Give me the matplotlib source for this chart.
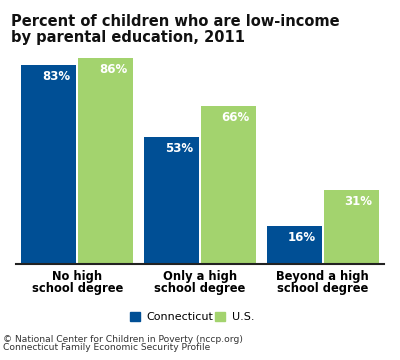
import numpy as np
import matplotlib
matplotlib.use('Agg')
import matplotlib.pyplot as plt
from matplotlib.patches import Patch

# Datos
categorias = ['No high\nschool degree', 'Only a high\nschool degree', 'Beyond a high\nschool degree']
connecticut = [83, 53, 16]
us = [86, 66, 31]

azul = '#004f95'
verde = '#a3d36e'

fig = plt.figure(figsize=(4, 3.6), dpi=100)
ax = fig.add_axes([0.04, 0.2667, 0.92, 0.6])

x = np.arange(len(categorias))
ancho = 0.449
sep = 0.008
b1 = ax.bar(x - ancho / 2 - sep, connecticut, ancho, color=azul)
b2 = ax.bar(x + ancho / 2 + sep, us, ancho, color=verde)

for barras, vals in [(b1, connecticut), (b2, us)]:
    for b, v in zip(barras, vals):
        ax.annotate(f'{v}%', (b.get_x() + b.get_width(), v), xytext=(-4.5, -8.5),
                    textcoords='offset points', ha='right', va='center',
                    color='white', fontsize=8.5, fontweight='bold')

ax.set_xlim(-0.5, 2.5)
ax.set_ylim(0, 90)
ax.set_yticks([])
ax.set_xticks(x)
ax.set_xticklabels(categorias, fontsize=8.3, fontweight='bold', linespacing=0.9)
ax.tick_params(axis='x', length=0, pad=4)
for s in ['top', 'right', 'left']:
    ax.spines[s].set_visible(False)
ax.spines['bottom'].set_linewidth(1.5)
ax.spines['bottom'].set_color('#222222')

fig.text(0.028, 0.96, 'Percent of children who are low-income\nby parental education, 2011',
         fontsize=10.5, fontweight='bold', va='top', ha='left', linespacing=1.05, color='#111111')

fig.legend(handles=[Patch(color=azul, label='Connecticut'), Patch(color=verde, label='U.S.')],
           loc='center', bbox_to_anchor=(0.48, 0.12), ncol=2, frameon=False, fontsize=8,
           handlelength=0.9, handleheight=0.9, handletextpad=0.6, columnspacing=0.2)

fig.text(0.008, 0.045, '© National Center for Children in Poverty (nccp.org)\nConnecticut Family Economic Security Profile',
         fontsize=6.6, va='center', ha='left', color='#333333', linespacing=0.9)

plt.savefig('out.png', dpi=100)
